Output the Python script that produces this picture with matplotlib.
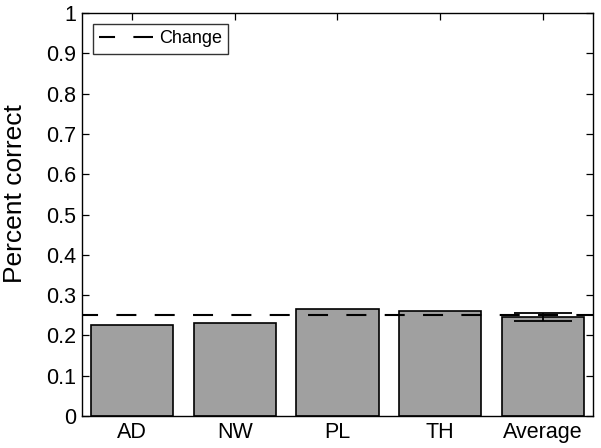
import matplotlib
matplotlib.use("Agg")
import matplotlib.pyplot as plt
import numpy as np

categories = ["AD", "NW", "PL", "TH", "Average"]
values = [0.226, 0.232, 0.266, 0.260, 0.246]
avg_err = 0.010
chance = 0.25

plt.rcParams['font.family'] = ['Liberation Sans', 'DejaVu Sans']

fig = plt.figure(figsize=(6.01, 4.48), dpi=100)
ax = fig.add_axes([82/601, 1-416/448, (593-82)/601, (416-13)/448])

x = np.arange(1, len(categories)+1)
ax.bar(x, values, width=0.8, color='#a0a0a0', edgecolor='black', linewidth=1.2, zorder=2)
ax.errorbar(x[-1], values[-1], yerr=avg_err, fmt='none', ecolor='black', elinewidth=1.3,
            capsize=21, capthick=1.3, zorder=4)
ax.axhline(chance, color='black', linestyle=(1.9, (9.6, 8.8)), linewidth=1.5, zorder=3, label='Change')

ax.set_xlim(0.51, 5.49)
ax.set_ylim(0, 1)
ax.set_xticks(x)
ax.set_xticklabels(categories, fontsize=15.5)
ax.set_yticks(np.arange(0, 1.01, 0.1))
ax.set_yticklabels(["0"] + ["%.1f" % v for v in np.arange(0.1, 0.95, 0.1)] + ["1"], fontsize=15.5)
ax.tick_params(direction='in', top=True, right=True, length=5, width=0.9, pad=4)
ax.set_ylabel("Percent correct", fontsize=19, va='center')
ax.yaxis.set_label_coords(-0.131, 0.553)
for s in ax.spines.values():
    s.set_linewidth(1.0)

leg = ax.legend(loc='upper left', fontsize=13, frameon=True, fancybox=False,
                edgecolor='black', borderpad=0.35, handlelength=3.0, handletextpad=0.3,
                borderaxespad=0, bbox_to_anchor=(0.0215, 0.9727))
leg.get_frame().set_linewidth(1.0)

fig.savefig("out.png", dpi=100)
